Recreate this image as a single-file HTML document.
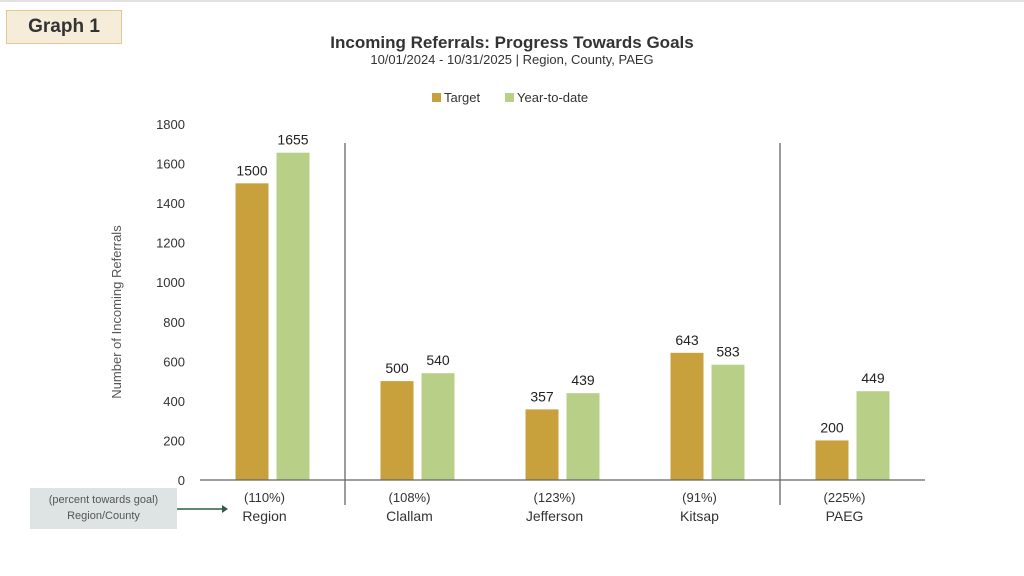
<!DOCTYPE html>
<html><head><meta charset="utf-8"><style>
body{margin:0;background:#fff;font-family:"Liberation Sans",sans-serif;}
#wrap{position:relative;width:1024px;height:576px;overflow:hidden;}
</style></head><body>
<div id="wrap">
<div style="position:absolute;left:0;top:0;width:1024px;height:2px;background:#e2e2e2"></div>
<div style="position:absolute;left:6px;top:10px;width:114px;height:32px;background:#f5ecd9;border:1px solid #dfc98f;font-weight:bold;font-size:19px;color:#333;line-height:32px;text-align:center">Graph 1</div>
<div style="position:absolute;left:30px;top:488px;width:147px;height:41px;background:#dde4e3;color:#555;font-size:11px;text-align:center;line-height:16px;padding-top:4px;box-sizing:border-box">(percent towards goal)<br>Region/County</div>
<svg id="chart" width="1024" height="576" style="position:absolute;left:0;top:0">
<text x="512" y="48" text-anchor="middle" font-size="17" font-weight="bold" fill="#333">Incoming Referrals: Progress Towards Goals</text>
<text x="512" y="64" text-anchor="middle" font-size="13" fill="#333">10/01/2024 - 10/31/2025 | Region, County, PAEG</text>
<rect x="432" y="93" width="9" height="9" fill="#c8a03c"/>
<text x="444" y="102" font-size="13" fill="#333">Target</text>
<rect x="505" y="93" width="9" height="9" fill="#b8cf88"/>
<text x="517" y="102" font-size="13" fill="#333">Year-to-date</text>
<text transform="translate(121,312) rotate(-90)" text-anchor="middle" font-size="13" fill="#555">Number of Incoming Referrals</text>
<line x1="177" y1="509" x2="222" y2="509" stroke="#2e5e44" stroke-width="1.5"/>
<polygon points="222,505 228,509 222,513" fill="#2e5e44"/>
<g id="g"></g>
</svg>
</div>
<script>
const categories=["Region","Clallam","Jefferson","Kitsap","PAEG"];
const percents=["(110%)","(108%)","(123%)","(91%)","(225%)"];
const target=[1500,500,357,643,200];
const ytd=[1655,540,439,583,449];
const yTicks=[0,200,400,600,800,1000,1200,1400,1600,1800];
const separatorsAfter=[0,3];
const NS="http://www.w3.org/2000/svg";
const g=document.getElementById("g");
const x0=200,x1=925,y0=480,ytop=124,ymax=1800;
const bw=(x1-x0)/categories.length;
const y=v=>y0-(v/ymax)*(y0-ytop);
function mk(t,a,txt){const e=document.createElementNS(NS,t);for(const k in a)e.setAttribute(k,a[k]);if(txt!=null)e.textContent=txt;g.appendChild(e);return e;}
yTicks.forEach(v=>{const e=mk("text",{x:185,y:y(v)+5,"text-anchor":"end","font-size":13,fill:"#333"},v);

});
categories.forEach((c,i)=>{
 const cx=x0+bw*(i+0.5);
 const bt=mk("rect",{x:cx-37,y:y(target[i]),width:33,height:y0-y(target[i]),fill:"#c8a03c"});
 
 
 const by=mk("rect",{x:cx+4,y:y(ytd[i]),width:33,height:y0-y(ytd[i]),fill:"#b8cf88"});
 
 
 const lt=mk("text",{x:cx-20.5,y:y(target[i])-8,"text-anchor":"middle","font-size":14,fill:"#222"},target[i]);
 
 
 const ly=mk("text",{x:cx+20.5,y:y(ytd[i])-8,"text-anchor":"middle","font-size":14,fill:"#222"},ytd[i]);
 
 
 const p=mk("text",{x:cx-8,y:502,"text-anchor":"middle","font-size":13,fill:"#333"},percents[i]);
 
 
 const n=mk("text",{x:cx-8,y:521,"text-anchor":"middle","font-size":14,fill:"#333"},c);
 
 
});
separatorsAfter.forEach(i=>{const sx=x0+bw*(i+1);
 const l=mk("line",{x1:sx,y1:143,x2:sx,y2:505,stroke:"#666","stroke-width":1.3});
 
 });
const ax=mk("line",{x1:x0,y1:y0,x2:x1,y2:y0,stroke:"#666","stroke-width":1.3});


</script>
</body></html>
